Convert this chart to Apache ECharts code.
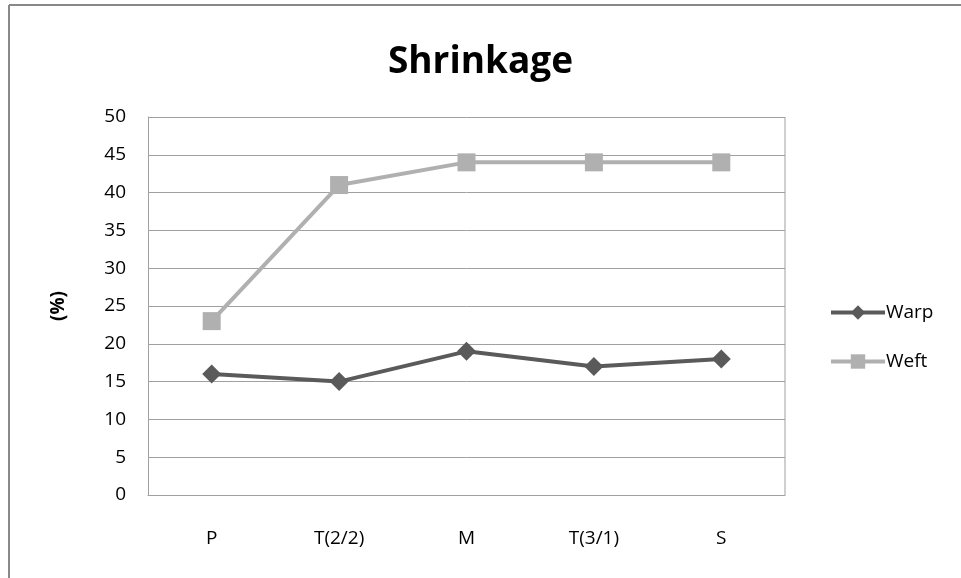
<!DOCTYPE html>
<html><head><meta charset="utf-8">
<script src="https://cdn.jsdelivr.net/npm/echarts@6/dist/echarts.min.js"></script>
<style>html,body{margin:0;padding:0;background:#fff}#c{width:961px;height:578px}</style>
</head><body><div id="c"></div>
<script>
var categories = ['P', 'T(2/2)', 'M', 'T(3/1)', 'S'];
var warp = [16, 15, 19, 17, 18];
var weft = [23, 41, 44, 44, 44];
var yTicks = {min: 0, max: 50, interval: 5};

var font = 'Open Sans, Liberation Sans, sans-serif';
var chart = echarts.init(document.getElementById('c'));
chart.setOption({
  animation: false,
  backgroundColor: '#fff',
  title: {text: 'Shrinkage', left: 'center', top: 39, itemGap: 0,
    textStyle: {fontFamily: font, fontSize: 37, fontWeight: 'bold', color: '#000'}},
  grid: {left: 148, top: 117, width: 637, height: 378, containLabel: false},
  legend: {
    orient: 'vertical', left: 824, top: 298, itemGap: 30, itemWidth: 54, itemHeight: 18,
    lineStyle: {width: 4},
    textStyle: {fontFamily: font, fontSize: 19, color: '#000', padding: [0, 0, 0, -4]},
    data: ['Warp', 'Weft']
  },
  xAxis: {
    type: 'category', data: categories, boundaryGap: true,
    axisLine: {lineStyle: {color: '#a0a0a0', width: 1}},
    axisTick: {show: false},
    axisLabel: {fontFamily: font, fontSize: 19, color: '#000', margin: 34}
  },
  yAxis: {
    type: 'value', min: yTicks.min, max: yTicks.max, interval: yTicks.interval,
    name: '(%)', nameLocation: 'middle', nameGap: 80, nameRotate: 90,
    nameTextStyle: {fontFamily: font, fontSize: 19, fontWeight: 'bold', color: '#000'},
    axisLine: {show: true, lineStyle: {color: '#a0a0a0'}},
    axisTick: {show: false},
    splitLine: {lineStyle: {color: '#a0a0a0', width: 1}},
    axisLabel: {fontFamily: font, fontSize: 19, color: '#000', margin: 22}
  },
  graphic: [
    {type: 'line', shape: {x1: 9, y1: 5, x2: 961, y2: 5}, style: {stroke: '#888', lineWidth: 2}},
    {type: 'line', shape: {x1: 9, y1: 5, x2: 9, y2: 578}, style: {stroke: '#888', lineWidth: 2}},
    {type: 'line', shape: {x1: 785, y1: 117, x2: 785, y2: 495}, style: {stroke: '#a0a0a0', lineWidth: 1}}
  ],
  series: [
    {name: 'Warp', type: 'line', data: warp, symbol: 'diamond', symbolSize: 19,
      lineStyle: {color: '#5a5a5a', width: 4}, itemStyle: {color: '#5a5a5a'}},
    {name: 'Weft', type: 'line', data: weft, symbol: 'rect', symbolSize: 18,
      lineStyle: {color: '#b0b0b0', width: 4}, itemStyle: {color: '#b0b0b0'}}
  ]
});
</script></body></html>
